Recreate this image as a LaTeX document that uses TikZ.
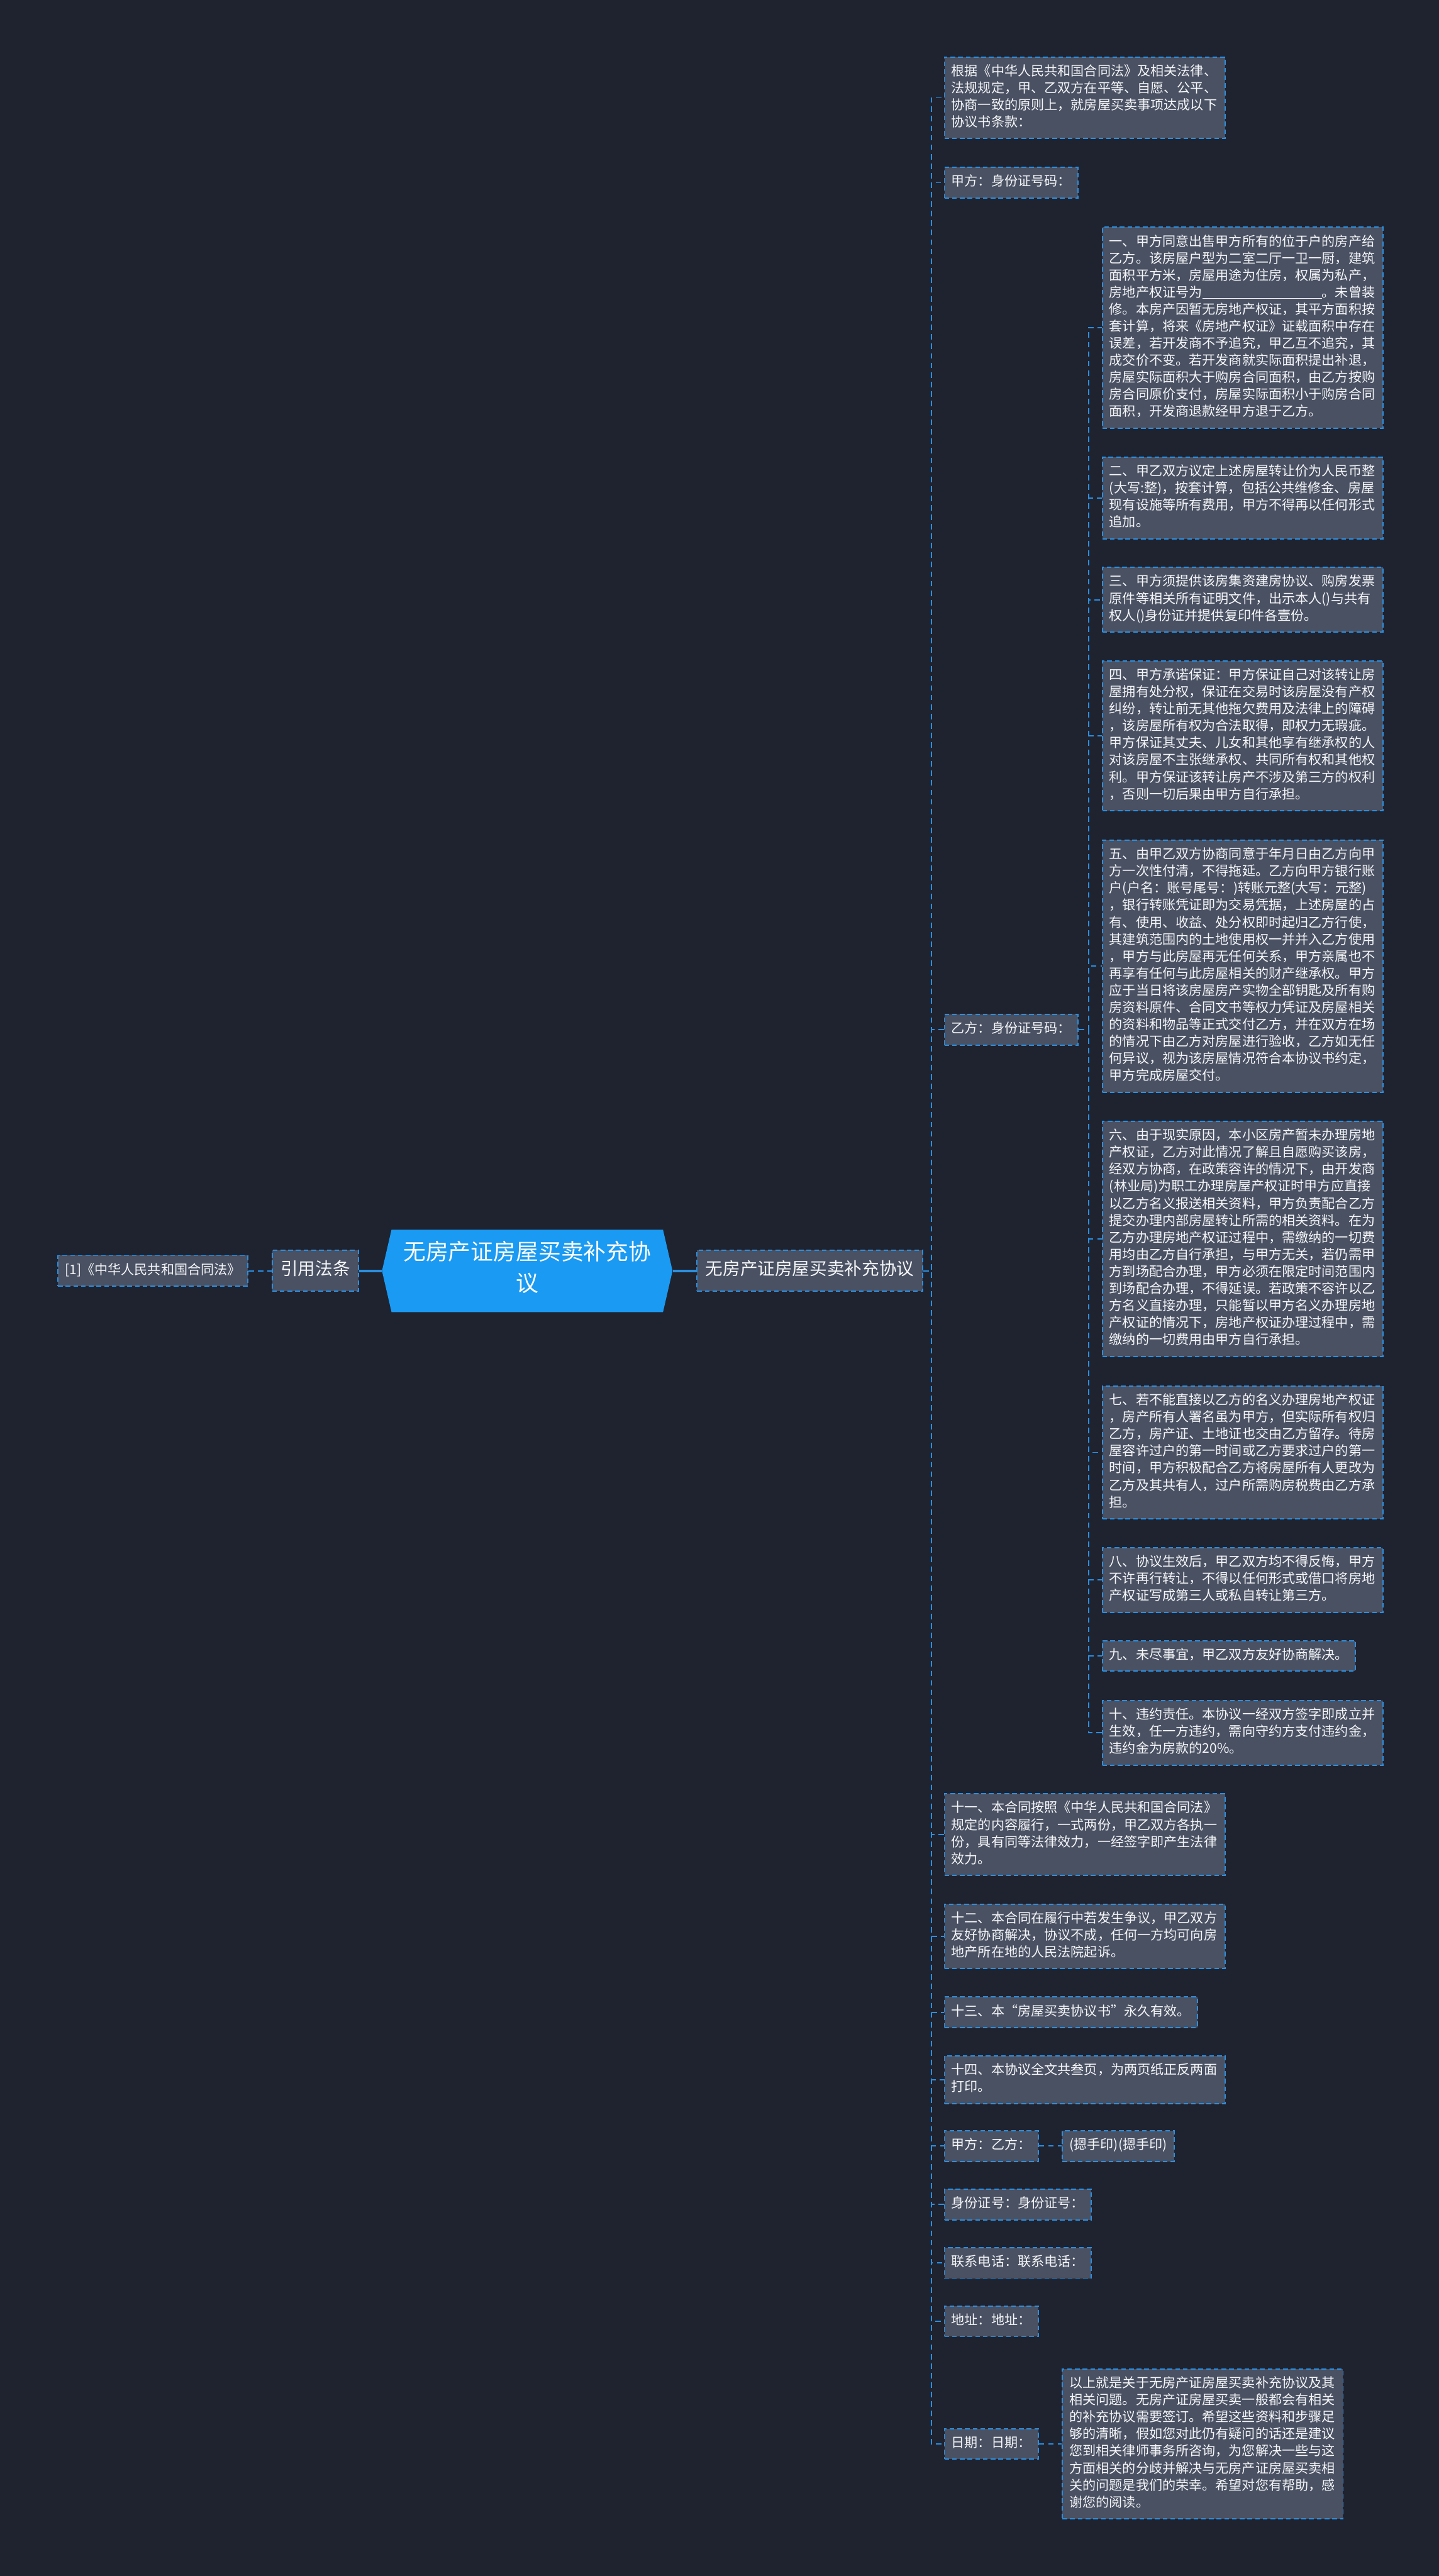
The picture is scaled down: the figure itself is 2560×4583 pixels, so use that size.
\documentclass[tikz,border=0pt]{standalone}
\usepackage{fontspec}
\setmainfont{Noto Sans CJK SC}
\usepackage{tikz}
\usetikzlibrary{shapes.symbols}
\definecolor{bgnavy}{HTML}{1F2330}
\definecolor{boxgray}{HTML}{4A5163}
\definecolor{linkblue}{HTML}{2B8FE0}
\definecolor{rootblue}{HTML}{1A9AF2}
\definecolor{txtwhite}{HTML}{F4F6F8}

\begin{document}
\begin{tikzpicture}[x=0.01cm,y=0.01cm,
  box/.style={fill=boxgray, draw=linkblue, line width=0.6pt, dash pattern=on 2.4pt off 1.5pt,
    text=txtwhite, anchor=west, inner xsep=0.125cm, inner ysep=0.12cm,
    font=\fontsize{6.72pt}{8.62pt}\selectfont,
    execute at begin node=\strut, execute at end node=\strut},
  para/.style={box, text width=4.74cm, align=left},
  mid/.style={box, font=\fontsize{8.8pt}{10.9pt}\selectfont, inner xsep=0.15cm, inner ysep=0.17cm},
  root/.style={shape=signal, signal to=east and west, signal pointer angle=154,
    fill=rootblue, text=white, align=center, inner xsep=0.21cm, inner ysep=0.2cm,
    font=\fontsize{11.4pt}{15.9pt}\selectfont,
    execute at begin node=\strut, execute at end node=\strut},
  link/.style={draw=linkblue, line width=0.6pt, dash pattern=on 2.8pt off 2pt},
  trunk/.style={draw=linkblue, line width=1.1pt}]
  \fill[bgnavy] (0,0) rectangle (2560,-4583);

  \node[box] (law) at (102,-2261) {[1]《中华人民共和国合同法》};
  \node[mid] (cite) at (483,-2261) {引用法条};
  \node[root] (root) at (938,-2261) {无房产证房屋买卖补充协\\议};
  \node[mid] (topic) at (1239,-2261) {无房产证房屋买卖补充协议};

  \node[para] (preface) at (1679,-174) {根据《中华人民共和国合同法》及相关法律、\\法规规定，甲、乙双方在平等、自愿、公平、\\协商一致的原则上，就房屋买卖事项达成以下\\协议书条款：};
  \node[box] (partyA) at (1679,-325) {甲方：身份证号码：};
  \node[box] (partyB) at (1679,-1832) {乙方：身份证号码：};

  \node[para] (c1) at (1960,-583) {一、甲方同意出售甲方所有的位于户的房产给\\乙方。该房屋户型为二室二厅一卫一厨，建筑\\面积平方米，房屋用途为住房，权属为私产，\\房地产权证号为\rule[-0.12em]{9em}{0.4pt}。未曾装\\修。本房产因暂无房地产权证，其平方面积按\\套计算，将来《房地产权证》证载面积中存在\\误差，若开发商不予追究，甲乙互不追究，其\\成交价不变。若开发商就实际面积提出补退，\\房屋实际面积大于购房合同面积，由乙方按购\\房合同原价支付，房屋实际面积小于购房合同\\面积，开发商退款经甲方退于乙方。};
  \node[para] (c2) at (1960,-886) {二、甲乙双方议定上述房屋转让价为人民币整\\(大写:整)，按套计算，包括公共维修金、房屋\\现有设施等所有费用，甲方不得再以任何形式\\追加。};
  \node[para] (c3) at (1960,-1067) {三、甲方须提供该房集资建房协议、购房发票\\原件等相关所有证明文件，出示本人()与共有\\权人()身份证并提供复印件各壹份。};
  \node[para] (c4) at (1960,-1309) {四、甲方承诺保证：甲方保证自己对该转让房\\屋拥有处分权，保证在交易时该房屋没有产权\\纠纷，转让前无其他拖欠费用及法律上的障碍\\，该房屋所有权为合法取得，即权力无瑕疵。\\甲方保证其丈夫、儿女和其他享有继承权的人\\对该房屋不主张继承权、共同所有权和其他权\\利。甲方保证该转让房产不涉及第三方的权利\\，否则一切后果由甲方自行承担。};
  \node[para] (c5) at (1960,-1719) {五、由甲乙双方协商同意于年月日由乙方向甲\\方一次性付清，不得拖延。乙方向甲方银行账\\户(户名：账号尾号：)转账元整(大写：元整)\\，银行转账凭证即为交易凭据，上述房屋的占\\有、使用、收益、处分权即时起归乙方行使，\\其建筑范围内的土地使用权一并并入乙方使用\\，甲方与此房屋再无任何关系，甲方亲属也不\\再享有任何与此房屋相关的财产继承权。甲方\\应于当日将该房屋房产实物全部钥匙及所有购\\房资料原件、合同文书等权力凭证及房屋相关\\的资料和物品等正式交付乙方，并在双方在场\\的情况下由乙方对房屋进行验收，乙方如无任\\何异议，视为该房屋情况符合本协议书约定，\\甲方完成房屋交付。};
  \node[para] (c6) at (1960,-2204) {六、由于现实原因，本小区房产暂未办理房地\\产权证，乙方对此情况了解且自愿购买该房，\\经双方协商，在政策容许的情况下，由开发商\\(林业局)为职工办理房屋产权证时甲方应直接\\以乙方名义报送相关资料，甲方负责配合乙方\\提交办理内部房屋转让所需的相关资料。在为\\乙方办理房地产权证过程中，需缴纳的一切费\\用均由乙方自行承担，与甲方无关，若仍需甲\\方到场配合办理，甲方必须在限定时间范围内\\到场配合办理，不得延误。若政策不容许以乙\\方名义直接办理，只能暂以甲方名义办理房地\\产权证的情况下，房地产权证办理过程中，需\\缴纳的一切费用由甲方自行承担。};
  \node[para] (c7) at (1960,-2584) {七、若不能直接以乙方的名义办理房地产权证\\，房产所有人署名虽为甲方，但实际所有权归\\乙方，房产证、土地证也交由乙方留存。待房\\屋容许过户的第一时间或乙方要求过户的第一\\时间，甲方积极配合乙方将房屋所有人更改为\\乙方及其共有人，过户所需购房税费由乙方承\\担。};
  \node[para] (c8) at (1960,-2811) {八、协议生效后，甲乙双方均不得反悔，甲方\\不许再行转让，不得以任何形式或借口将房地\\产权证写成第三人或私自转让第三方。};
  \node[box] (c9) at (1960,-2946) {九、未尽事宜，甲乙双方友好协商解决。};
  \node[para] (c10) at (1960,-3083) {十、违约责任。本协议一经双方签字即成立并\\生效，任一方违约，需向守约方支付违约金，\\违约金为房款的20\%。};

  \node[para] (c11) at (1679,-3264) {十一、本合同按照《中华人民共和国合同法》\\规定的内容履行，一式两份，甲乙双方各执一\\份，具有同等法律效力，一经签字即产生法律\\效力。};
  \node[para] (c12) at (1679,-3445) {十二、本合同在履行中若发生争议，甲乙双方\\友好协商解决，协议不成，任何一方均可向房\\地产所在地的人民法院起诉。};
  \node[box] (c13) at (1679,-3580) {十三、本“房屋买卖协议书”永久有效。};
  \node[para] (c14) at (1679,-3700) {十四、本协议全文共叁页，为两页纸正反两面\\打印。};
  \node[box] (sign) at (1679,-3818) {甲方：乙方：};
  \node[box] (print) at (1889,-3818) {(摁手印)(摁手印)};
  \node[box] (idno) at (1679,-3922) {身份证号：身份证号：};
  \node[box] (phone) at (1679,-4026) {联系电话：联系电话：};
  \node[box] (addr) at (1679,-4130) {地址：地址：};
  \node[box] (date) at (1679,-4348) {日期：日期：};
  \node[para] (outro) at (1889,-4348) {以上就是关于无房产证房屋买卖补充协议及其\\相关问题。无房产证房屋买卖一般都会有相关\\的补充协议需要签订。希望这些资料和步骤足\\够的清晰，假如您对此仍有疑问的话还是建议\\您到相关律师事务所咨询，为您解决一些与这\\方面相关的分歧并解决与无房产证房屋买卖相\\关的问题是我们的荣幸。希望对您有帮助，感\\谢您的阅读。};

  \coordinate (s1) at (1657,0);
  \coordinate (s2) at (1937,0);
  \draw[link] (law.east) -- (cite.west);
  \draw[trunk] (cite.east) -- (root.west);
  \draw[trunk] (root.east) -- (topic.west);
  \foreach \n in {preface,partyA,partyB,c11,c12,c13,c14,sign,idno,phone,addr,date}
    \draw[link] (topic.east) -- (topic.east -| s1) |- (\n.west);
  \foreach \n in {c1,c2,c3,c4,c5,c6,c7,c8,c9,c10}
    \draw[link] (partyB.east) -- (partyB.east -| s2) |- (\n.west);
  \draw[link] (sign.east) -- (print.west);
  \draw[link] (date.east) -- (outro.west);
\end{tikzpicture}
\end{document}
